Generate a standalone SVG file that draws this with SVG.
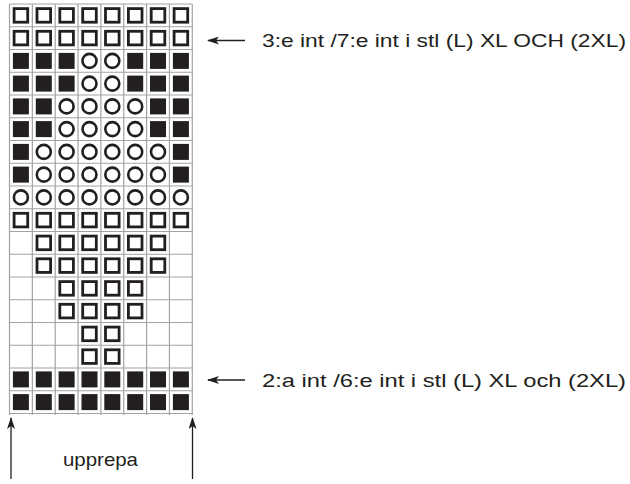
<svg xmlns="http://www.w3.org/2000/svg" xmlns:xlink="http://www.w3.org/1999/xlink" width="630" height="484" viewBox="0 0 630 484">
<style>
.g{stroke:#a3a3a3;stroke-width:1.2;fill:none}
.t{font-family:"Liberation Sans",Arial,sans-serif;font-size:18.5px;fill:#231f20}
.a{stroke:#231f20;stroke-width:1.3;fill:none}
</style>
<defs>
<rect id="f" x="-8" y="-8" width="16" height="16" fill="#231f20"/>
<rect id="s" x="-6.8" y="-6.8" width="13.6" height="13.6" fill="#fff" stroke="#231f20" stroke-width="2.8"/>
<circle id="o" r="7" fill="#fff" stroke="#231f20" stroke-width="2.6"/>
<marker id="ah" viewBox="0 0 12 8" refX="11" refY="4" markerWidth="12" markerHeight="8" markerUnits="userSpaceOnUse" orient="auto">
<path d="M0,0 L12,4 L0,8 L3,4 Z" fill="#231f20"/>
</marker>
</defs>
<rect width="630" height="484" fill="#fff"/>
<g id="grid" class="g">
<path d="M9.5,4V415M32.35,4V415M55.2,4V415M78.05,4V415M100.9,4V415M123.75,4V415M146.6,4V415M169.45,4V415M192.3,4V415"/>
<path d="M9.5,4H192.3M9.5,26.75H192.3M9.5,49.5H192.3M9.5,72.25H192.3M9.5,95H192.3M9.5,117.75H192.3M9.5,140.5H192.3M9.5,163.25H192.3M9.5,186H192.3M9.5,208.75H192.3M9.5,231.5H192.3M9.5,254.25H192.3M9.5,277H192.3M9.5,299.75H192.3M9.5,322.5H192.3M9.5,345.25H192.3M9.5,368H192.3M9.5,390.75H192.3M9.5,413.5H192.3"/>
</g>
<g id="row1"><use href="#s" x="20.9" y="15.4"/><use href="#s" x="43.8" y="15.4"/><use href="#s" x="66.6" y="15.4"/><use href="#s" x="89.5" y="15.4"/><use href="#s" x="112.3" y="15.4"/><use href="#s" x="135.2" y="15.4"/><use href="#s" x="158" y="15.4"/><use href="#s" x="180.9" y="15.4"/></g>
<g id="row2"><use href="#s" x="20.9" y="38.1"/><use href="#s" x="43.8" y="38.1"/><use href="#s" x="66.6" y="38.1"/><use href="#s" x="89.5" y="38.1"/><use href="#s" x="112.3" y="38.1"/><use href="#s" x="135.2" y="38.1"/><use href="#s" x="158" y="38.1"/><use href="#s" x="180.9" y="38.1"/></g>
<g id="row3"><use href="#f" x="20.9" y="60.9"/><use href="#f" x="43.8" y="60.9"/><use href="#f" x="66.6" y="60.9"/><use href="#o" x="89.5" y="60.9"/><use href="#o" x="112.3" y="60.9"/><use href="#f" x="135.2" y="60.9"/><use href="#f" x="158" y="60.9"/><use href="#f" x="180.9" y="60.9"/></g>
<g id="row4"><use href="#f" x="20.9" y="83.6"/><use href="#f" x="43.8" y="83.6"/><use href="#f" x="66.6" y="83.6"/><use href="#o" x="89.5" y="83.6"/><use href="#o" x="112.3" y="83.6"/><use href="#f" x="135.2" y="83.6"/><use href="#f" x="158" y="83.6"/><use href="#f" x="180.9" y="83.6"/></g>
<g id="row5"><use href="#f" x="20.9" y="106.4"/><use href="#f" x="43.8" y="106.4"/><use href="#o" x="66.6" y="106.4"/><use href="#o" x="89.5" y="106.4"/><use href="#o" x="112.3" y="106.4"/><use href="#o" x="135.2" y="106.4"/><use href="#f" x="158" y="106.4"/><use href="#f" x="180.9" y="106.4"/></g>
<g id="row6"><use href="#f" x="20.9" y="129.1"/><use href="#f" x="43.8" y="129.1"/><use href="#o" x="66.6" y="129.1"/><use href="#o" x="89.5" y="129.1"/><use href="#o" x="112.3" y="129.1"/><use href="#o" x="135.2" y="129.1"/><use href="#f" x="158" y="129.1"/><use href="#f" x="180.9" y="129.1"/></g>
<g id="row7"><use href="#f" x="20.9" y="151.9"/><use href="#o" x="43.8" y="151.9"/><use href="#o" x="66.6" y="151.9"/><use href="#o" x="89.5" y="151.9"/><use href="#o" x="112.3" y="151.9"/><use href="#o" x="135.2" y="151.9"/><use href="#o" x="158" y="151.9"/><use href="#f" x="180.9" y="151.9"/></g>
<g id="row8"><use href="#f" x="20.9" y="174.6"/><use href="#o" x="43.8" y="174.6"/><use href="#o" x="66.6" y="174.6"/><use href="#o" x="89.5" y="174.6"/><use href="#o" x="112.3" y="174.6"/><use href="#o" x="135.2" y="174.6"/><use href="#o" x="158" y="174.6"/><use href="#f" x="180.9" y="174.6"/></g>
<g id="row9"><use href="#o" x="20.9" y="197.4"/><use href="#o" x="43.8" y="197.4"/><use href="#o" x="66.6" y="197.4"/><use href="#o" x="89.5" y="197.4"/><use href="#o" x="112.3" y="197.4"/><use href="#o" x="135.2" y="197.4"/><use href="#o" x="158" y="197.4"/><use href="#o" x="180.9" y="197.4"/></g>
<g id="row10"><use href="#s" x="20.9" y="220.1"/><use href="#s" x="43.8" y="220.1"/><use href="#s" x="66.6" y="220.1"/><use href="#s" x="89.5" y="220.1"/><use href="#s" x="112.3" y="220.1"/><use href="#s" x="135.2" y="220.1"/><use href="#s" x="158" y="220.1"/><use href="#s" x="180.9" y="220.1"/></g>
<g id="row11"><use href="#s" x="43.8" y="242.9"/><use href="#s" x="66.6" y="242.9"/><use href="#s" x="89.5" y="242.9"/><use href="#s" x="112.3" y="242.9"/><use href="#s" x="135.2" y="242.9"/><use href="#s" x="158" y="242.9"/></g>
<g id="row12"><use href="#s" x="43.8" y="265.6"/><use href="#s" x="66.6" y="265.6"/><use href="#s" x="89.5" y="265.6"/><use href="#s" x="112.3" y="265.6"/><use href="#s" x="135.2" y="265.6"/><use href="#s" x="158" y="265.6"/></g>
<g id="row13"><use href="#s" x="66.6" y="288.4"/><use href="#s" x="89.5" y="288.4"/><use href="#s" x="112.3" y="288.4"/><use href="#s" x="135.2" y="288.4"/></g>
<g id="row14"><use href="#s" x="66.6" y="311.1"/><use href="#s" x="89.5" y="311.1"/><use href="#s" x="112.3" y="311.1"/><use href="#s" x="135.2" y="311.1"/></g>
<g id="row15"><use href="#s" x="89.5" y="333.9"/><use href="#s" x="112.3" y="333.9"/></g>
<g id="row16"><use href="#s" x="89.5" y="356.6"/><use href="#s" x="112.3" y="356.6"/></g>
<g id="row17"><use href="#f" x="20.9" y="379.4"/><use href="#f" x="43.8" y="379.4"/><use href="#f" x="66.6" y="379.4"/><use href="#f" x="89.5" y="379.4"/><use href="#f" x="112.3" y="379.4"/><use href="#f" x="135.2" y="379.4"/><use href="#f" x="158" y="379.4"/><use href="#f" x="180.9" y="379.4"/></g>
<g id="row18"><use href="#f" x="20.9" y="402.1"/><use href="#f" x="43.8" y="402.1"/><use href="#f" x="66.6" y="402.1"/><use href="#f" x="89.5" y="402.1"/><use href="#f" x="112.3" y="402.1"/><use href="#f" x="135.2" y="402.1"/><use href="#f" x="158" y="402.1"/><use href="#f" x="180.9" y="402.1"/></g>
<g id="connectors" class="a">
<line x1="245" y1="40.5" x2="208" y2="40.5" marker-end="url(#ah)"/>
<line x1="245" y1="380" x2="208" y2="380" marker-end="url(#ah)"/>
<line x1="11" y1="479" x2="11" y2="418" marker-end="url(#ah)"/>
<line x1="192.5" y1="479" x2="192.5" y2="418" marker-end="url(#ah)"/>
</g>
<g id="labels">
<text class="t" x="262" y="47" textLength="364" lengthAdjust="spacingAndGlyphs">3:e int /7:e int i stl (L) XL OCH (2XL)</text>
<text class="t" x="262" y="386.5" textLength="364" lengthAdjust="spacingAndGlyphs">2:a int /6:e int i stl (L) XL och (2XL)</text>
<text class="t" x="63" y="466" textLength="75" lengthAdjust="spacingAndGlyphs">upprepa</text>
</g>
</svg>
